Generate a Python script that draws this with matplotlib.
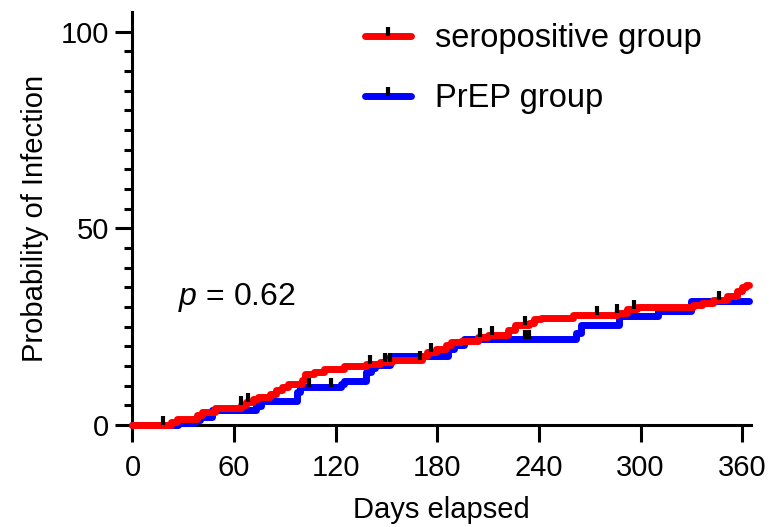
import numpy as np
import matplotlib
matplotlib.use("Agg")
from matplotlib import pyplot as plt
from matplotlib.lines import Line2D

plt.rcParams['font.family'] = ['Liberation Sans', 'DejaVu Sans']
plt.rcParams['mathtext.fontset'] = 'custom'
plt.rcParams['mathtext.it'] = 'Liberation Sans:italic'
plt.rcParams['mathtext.rm'] = 'Liberation Sans'

# curva de Kaplan-Meier (dias, % acumulada de infecção)
dias_soro = [0, 23, 26, 38, 41, 49, 64, 67, 71, 74, 81, 85, 88, 92, 100, 102, 107,
             113, 125, 138, 146, 153, 171, 174, 179, 185, 188, 194, 204, 210, 222,
             226, 234, 237, 241, 260, 286, 292, 298, 331, 336, 343, 351, 357, 360,
             362, 364]
prob_soro = [0, 0.7, 1.5, 2.5, 3.4, 4.4, 5.0, 5.8, 6.5, 7.1, 8.0, 9.0, 9.6, 10.4,
             11.5, 13.0, 13.4, 14.2, 15.0, 15.6, 16.1, 16.6, 17.5, 18.5, 19.3, 20.3,
             21.0, 21.4, 22.3, 22.9, 24.2, 25.4, 26.0, 26.9, 27.2, 27.9, 28.5, 29.4,
             29.9, 30.5, 31.0, 31.7, 32.8, 34.0, 35.0, 35.7, 35.7]

dias_prep = [0, 27, 37, 40, 47, 73, 76, 97, 99, 123, 125, 138, 141, 143, 152, 186,
             190, 196, 262, 265, 287, 310, 330, 364]
prob_prep = [0, 0.4, 1.2, 2.0, 3.8, 4.8, 6.2, 8.3, 9.6, 10.5, 11.2, 13.4, 14.5, 15.2,
             17.6, 19.3, 20.3, 21.8, 23.5, 25.5, 27.7, 29.0, 31.5, 31.5]

# censuras (dias)
cens_soro = [18, 64, 68, 140, 149, 152, 170, 176, 205, 212, 232, 274, 286, 296, 346]
cens_prep = [104, 117, 232, 234]

fig = plt.figure(figsize=(7.69, 5.27), dpi=100)
ax = fig.add_axes([0.1723, 0.1935, 0.9762 - 0.1723, 0.977 - 0.1935])

lw = 5
ax.plot(dias_prep, prob_prep, color='#0000ff', lw=lw, drawstyle='steps-post',
        solid_capstyle='round', solid_joinstyle='round', clip_on=False, zorder=3)
ax.plot(dias_soro, prob_soro, color='#ff0000', lw=lw, drawstyle='steps-post',
        solid_capstyle='round', solid_joinstyle='round', clip_on=False, zorder=4)

def valor(dias, prob, t):
    i = np.searchsorted(dias, t, side='right') - 1
    return prob[i]

y_soro = [valor(dias_soro, prob_soro, t) for t in cens_soro]
y_prep = [valor(dias_prep, prob_prep, t) for t in cens_prep]
ax.plot(cens_soro, y_soro, ls='none', marker=2, ms=6.5, mew=3, color='black', zorder=5, clip_on=False)
ax.plot(cens_prep, y_prep, ls='none', marker=2, ms=6.5, mew=3, color='black', zorder=5, clip_on=False)

ax.set_xlim(0, 365)
ax.set_ylim(0, 105)
ax.set_xticks(np.arange(0, 361, 60))
ax.set_yticks([0, 50, 100])
ax.set_yticks(np.arange(0, 101, 5), minor=True)
for s in ['top', 'right']:
    ax.spines[s].set_visible(False)
for s in ['left', 'bottom']:
    ax.spines[s].set_linewidth(2.2)
ax.tick_params(axis='both', which='major', length=12, width=2.2, labelsize=21, pad=5)
ax.tick_params(axis='x', which='major', pad=9)
ax.tick_params(axis='y', which='minor', length=6, width=2.2)

ax.set_xlabel('Days elapsed', fontsize=21, labelpad=10)
ax.set_ylabel('Probability of Infection', fontsize=21, labelpad=8)

ax.text(27, 32.5, '$p$ = 0.62', fontsize=23, va='center', ha='left')

h_soro = Line2D([], [], color='#ff0000', lw=lw, marker=2, ms=6.5, mew=3, mec='black',
                markevery=[1], solid_capstyle='round')
h_prep = Line2D([], [], color='#0000ff', lw=lw, marker=2, ms=6.5, mew=3, mec='black',
                markevery=[1], solid_capstyle='round')
ax.legend([h_soro, h_prep], ['seropositive group', 'PrEP group'], loc='upper left',
          bbox_to_anchor=(0.376, 0.973), frameon=False, fontsize=23.5, handlelength=1.4,
          handletextpad=0.75, labelspacing=0.88, numpoints=1, borderpad=0, borderaxespad=0)

fig.savefig('out.png', dpi=100)
